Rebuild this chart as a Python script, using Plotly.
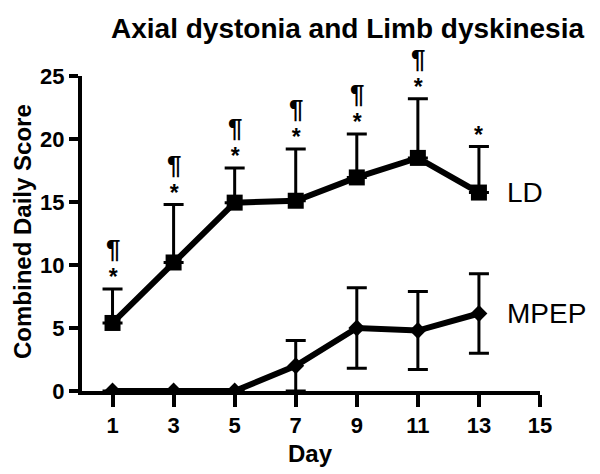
import plotly.graph_objects as go

days = [1, 3, 5, 7, 9, 11, 13]
ld_mean = [5.4, 10.2, 14.95, 15.1, 16.95, 18.5, 15.75]
ld_err_up = [2.7, 4.6, 2.75, 4.1, 3.45, 4.7, 3.65]
mpep_mean = [0, 0, 0, 2.0, 5.0, 4.8, 6.15]
mpep_err = [0, 0, 0, 2.0, 3.2, 3.1, 3.15]
star_marks = ["*", "*", "*", "*", "*", "*", "*"]
para_marks = ["¶", "¶", "¶", "¶", "¶", "¶", ""]
x_ticks = [1, 3, 5, 7, 9, 11, 13, 15]
y_ticks = [0, 5, 10, 15, 20, 25]

FONT = "Liberation Sans, Arial, sans-serif"
BODY = 8  # default page margin around the plot div

fig = go.Figure()

fig.add_trace(
    go.Scatter(
        x=days,
        y=mpep_mean,
        mode="lines+markers",
        name="MPEP",
        line={"color": "black", "width": 6},
        marker={"symbol": "diamond", "size": 13, "color": "black"},
        error_y={
            "type": "data",
            "array": mpep_err,
            "color": "black",
            "thickness": 3,
            "width": 10,
        },
    )
)

fig.add_trace(
    go.Scatter(
        x=days,
        y=ld_mean,
        mode="lines+markers",
        name="LD",
        line={"color": "black", "width": 6},
        marker={"symbol": "square", "size": 16, "color": "black"},
        error_y={
            "type": "data",
            "symmetric": False,
            "array": ld_err_up,
            "arrayminus": [0] * len(days),
            "color": "black",
            "thickness": 3,
            "width": 10,
        },
    )
)

# significance marks above the LD error bars (pilcrow stacked over the star)
for d, m, e, s, p in zip(days, ld_mean, ld_err_up, star_marks, para_marks):
    label = f"<span style='font-size:23px'>{s}</span>"
    if p:
        label = f"<span style='font-size:26px'>{p}</span><br>{label}"
    fig.add_annotation(
        x=d, y=m + e, text=f"<b>{label}</b>", showarrow=False,
        yanchor="bottom", yshift=-3, font={"size": 21, "family": FONT, "color": "black"},
    )

# series labels
fig.add_annotation(
    x=days[-1], y=ld_mean[-1], text="LD", showarrow=False, xanchor="left",
    xshift=26, font={"size": 28, "family": FONT, "color": "black"},
)
fig.add_annotation(
    x=days[-1], y=mpep_mean[-1], text="MPEP", showarrow=False, xanchor="left",
    xshift=26, font={"size": 28, "family": FONT, "color": "black"},
)

# titles (positions in page pixels, converted below)
fig.add_annotation(
    x=347, y=28, xref="paper", yref="paper", text="<b>Axial dystonia and Limb dyskinesia</b>",
    showarrow=False, font={"size": 28, "family": FONT, "color": "black"},
)
fig.add_annotation(
    x=310, y=453, xref="paper", yref="paper", text="<b>Day</b>",
    showarrow=False, font={"size": 24, "family": FONT, "color": "black"},
)
fig.add_annotation(
    x=22, y=232, xref="paper", yref="paper", text="<b>Combined Daily Score</b>",
    showarrow=False, textangle=-90, font={"size": 24, "family": FONT, "color": "black"},
)

for ann in fig.layout.annotations:
    if ann.xref == "paper":
        ann.x = (ann.x - 82) / (540 - 82)
        ann.y = (391 - ann.y) / (391 - 76)
        ann.xanchor = "center"
        ann.yanchor = "middle"

axis_common = {
    "showgrid": False,
    "zeroline": False,
    "showline": True,
    "linecolor": "black",
    "linewidth": 4,
    "ticks": "outside",
    "tickcolor": "black",
    "tickwidth": 4,
    "automargin": False,
    "tickfont": {"size": 22, "family": FONT, "color": "black", "weight": "bold"},
}

fig.update_xaxes(**axis_common, range=[0, 15], tickvals=x_ticks, ticklen=12)
fig.update_yaxes(**axis_common, range=[0, 25], tickvals=y_ticks, ticklen=9)

fig.update_layout(
    width=600 - BODY,
    height=474 - BODY,
    showlegend=False,
    plot_bgcolor="white",
    paper_bgcolor="white",
    margin={"l": 82 - BODY, "r": 60, "t": 76 - BODY, "b": 83},
)

fig.write_html("out.html")
